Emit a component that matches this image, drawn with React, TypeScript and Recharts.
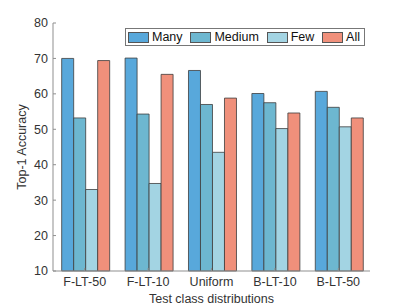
import React from 'react';
import { BarChart, Bar, XAxis, YAxis } from 'recharts';

const categories = ['F-LT-50', 'F-LT-10', 'Uniform', 'B-LT-10', 'B-LT-50'];
const many = [70.0, 70.1, 66.6, 60.1, 60.7];
const medium = [53.2, 54.3, 57.0, 57.5, 56.2];
const few = [33.0, 34.7, 43.5, 50.2, 50.7];
const all = [69.4, 65.5, 58.8, 54.6, 53.2];
const yTicks = [10, 20, 30, 40, 50, 60, 70, 80];

const series = [
  { key: 'many', name: 'Many', color: '#58a8db' },
  { key: 'medium', name: 'Medium', color: '#6db7d0' },
  { key: 'few', name: 'Few', color: '#a3d4e3' },
  { key: 'all', name: 'All', color: '#f0907b' },
];

const data = categories.map((c, i) => ({
  name: c,
  many: many[i],
  medium: medium[i],
  few: few[i],
  all: all[i],
}));

const axisColor = '#8f8f8f';
const textColor = '#333';
const font = '"Liberation Sans", Arial, sans-serif';

// legend box drawn over the plot, like matlab's 'northeast' horizontal legend
const LegendBox = () => (
  <div
    style={{
      position: 'absolute',
      left: 125,
      top: 28,
      width: 240,
      height: 18,
      display: 'flex',
      alignItems: 'center',
      justifyContent: 'space-between',
      border: '1px solid #777',
      background: '#fff',
      padding: '0 4px 0 2px',
      boxSizing: 'border-box',
      fontFamily: font,
      fontSize: 12.5,
      color: '#111',
    }}
  >
    {series.map((s) => (
      <div key={s.key} style={{ display: 'flex', alignItems: 'center' }}>
        <span
          style={{
            display: 'inline-block',
            width: 21,
            height: 11,
            background: s.color,
            border: '1px solid #555',
            boxSizing: 'border-box',
            marginRight: 3,
          }}
        />
        <span>{s.name}</span>
      </div>
    ))}
  </div>
);

export default function App() {
  return (
    <div style={{ position: 'absolute', left: 0, top: 0, width: 409, height: 307, background: '#fff' }}>
      <BarChart
        width={409}
        height={307}
        data={data}
        margin={{ top: 23, right: 39, left: 0, bottom: 0 }}
        barCategoryGap="13.7%"
        barGap={0}
      >
        <XAxis
          dataKey="name"
          stroke={axisColor}
          tickSize={-3}
          tickMargin={9}
          height={36}
          tick={{ fill: textColor, fontSize: 12.5, fontFamily: font }}
          label={{
            value: 'Test class distributions',
            position: 'insideBottom',
            offset: 4,
            fill: textColor,
            fontSize: 12.5,
            fontFamily: font,
          }}
        />
        <XAxis
          xAxisId="top"
          dataKey="name"
          orientation="top"
          height={0}
          stroke={axisColor}
          tickSize={-3}
          tick={false}
        />
        <YAxis
          domain={[10, 80]}
          ticks={yTicks}
          width={53}
          stroke={axisColor}
          tickSize={-3}
          tickMargin={8}
          tick={{ fill: textColor, fontSize: 12.5, fontFamily: font }}
          label={{
            value: 'Top-1 Accuracy',
            angle: -90,
            position: 'center',
            dx: -5,
            fill: textColor,
            fontSize: 12.5,
            fontFamily: font,
          }}
        />
        <YAxis
          yAxisId="right"
          orientation="right"
          domain={[10, 80]}
          ticks={yTicks}
          width={0}
          stroke={axisColor}
          tickSize={-3}
          tick={false}
        />
        {series.map((s) => (
          <Bar
            key={s.key}
            dataKey={s.key}
            name={s.name}
            fill={s.color}
            stroke="#3d3d3d"
            strokeWidth={0.8}
            isAnimationActive={false}
          />
        ))}
      </BarChart>
      <LegendBox />
    </div>
  );
}
